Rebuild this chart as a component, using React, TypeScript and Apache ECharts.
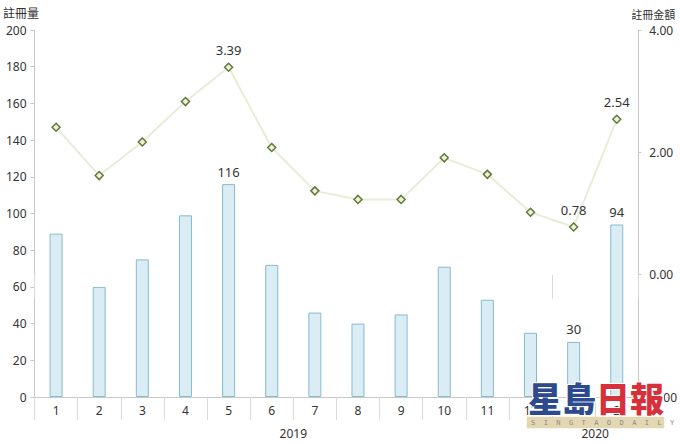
import { useEffect, useRef } from "react";
import * as echarts from "echarts";

// month labels along the bottom, grouped by year
const monthLabels = ["1", "2", "3", "4", "5", "6", "7", "8", "9", "10", "11", "12", "1", "2"];
const years = ["2019", "2020"];
const yearCounts = [12, 2];

// 註冊量 (bars, left axis)
const regCount = [89, 60, 75, 99, 116, 72, 46, 40, 45, 71, 53, 35, 30, 94];
// 註冊金額 (line, right axis)
const regAmount = [2.41, 1.62, 2.17, 2.83, 3.39, 2.08, 1.37, 1.23, 1.23, 1.91, 1.64, 1.02, 0.78, 2.54];

// points that carry a value label
const labelledIdx = [4, 12, 13];

const leftTicks = { min: 0, max: 200, interval: 20 };
const rightTicks = { min: -2, max: 4, interval: 2 };

const FONT = '"Noto Sans", "Noto Sans CJK TC", sans-serif';
const CJK = '"Noto Sans CJK TC", sans-serif';
const TEXT = "#333";
const AXIS = "#c8c8c8";

export default function App() {
  const chartRef = useRef<HTMLDivElement>(null);

  useEffect(() => {
    document.body.style.margin = "0";
    if (!chartRef.current) return;
    const chart = echarts.init(chartRef.current, undefined, { renderer: "svg" });

    // year group boundaries and centres in category units
    const bounds = [0];
    yearCounts.forEach((c) => bounds.push(bounds[bounds.length - 1] + c));
    const centres = yearCounts.map((c, i) => bounds[i] + c / 2);

    const labelCfg = { show: true, position: "top", color: TEXT, fontSize: 13, fontFamily: FONT, distance: 6 };

    chart.setOption({
      animation: false,
      backgroundColor: "#fff",
      textStyle: { fontFamily: FONT },
      grid: { left: 32, right: 40, top: 30, bottom: 47 },
      xAxis: [
        {
          type: "category",
          data: monthLabels.map((m, i) => `${i}:${m}`),
          boundaryGap: true,
          axisLine: { lineStyle: { color: AXIS } },
          axisTick: { show: true, interval: 0, length: 23, lineStyle: { color: "#dadada" } },
          axisLabel: {
            interval: 0,
            margin: 7,
            color: TEXT,
            fontSize: 12,
            fontFamily: FONT,
            formatter: (v: string) => v.split(":")[1],
          },
        },
        {
          type: "value",
          min: 0,
          max: monthLabels.length,
          position: "bottom",
          offset: 23,
          axisLine: { show: false },
          splitLine: { show: false },
          axisTick: {
            show: true,
            customValues: bounds,
            length: 24,
            lineStyle: { color: "#dadada" },
          },
          axisLabel: {
            customValues: centres,
            margin: 7,
            color: TEXT,
            fontSize: 12,
            fontFamily: FONT,
            formatter: (v: number) => years[centres.indexOf(v)] ?? "",
          },
        },
      ],
      yAxis: [
        {
          type: "value",
          ...leftTicks,
          name: "註冊量",
          nameLocation: "end",
          nameGap: 12,
          nameTextStyle: { color: TEXT, fontSize: 12, fontFamily: CJK, align: "center", padding: [0, 27, 0, 0] },
          axisLine: { show: true, lineStyle: { color: AXIS } },
          axisTick: { show: true, length: 4, lineStyle: { color: AXIS } },
          splitLine: { show: false },
          axisLabel: { color: TEXT, fontSize: 12, fontFamily: FONT, margin: 8 },
        },
        {
          type: "value",
          ...rightTicks,
          name: "註冊金額",
          nameLocation: "end",
          nameGap: 11,
          nameTextStyle: { color: TEXT, fontSize: 11, fontFamily: CJK, align: "center", padding: [0, 0, 0, 30] },
          axisLine: { show: true, lineStyle: { color: AXIS } },
          axisTick: { show: true, length: 3, lineStyle: { color: AXIS } },
          splitLine: { show: false },
          axisLabel: {
            color: TEXT,
            fontSize: 12,
            fontFamily: FONT,
            margin: 11,
            formatter: (v: number) => v.toFixed(2),
          },
        },
      ],
      series: [
        {
          name: "註冊量",
          type: "bar",
          xAxisIndex: 0,
          yAxisIndex: 0,
          barWidth: 13,
          itemStyle: { color: "#daedf5", borderColor: "#86bccb", borderWidth: 1 },
          data: regCount.map((v, i) => ({
            value: v,
            label: labelledIdx.includes(i) ? labelCfg : { show: false },
          })),
          emphasis: { disabled: true },
        },
        {
          name: "註冊金額",
          type: "line",
          xAxisIndex: 0,
          yAxisIndex: 1,
          symbol: "diamond",
          symbolSize: 8,
          lineStyle: { color: "#eaecd8", width: 2 },
          itemStyle: { color: "#eef0dc", borderColor: "#62793a", borderWidth: 1.5 },
          data: regAmount.map((v, i) => ({
            value: v,
            label: labelledIdx.includes(i)
              ? { ...labelCfg, formatter: (p: any) => Number(p.value).toFixed(2) }
              : { show: false },
          })),
          emphasis: { disabled: true },
          z: 3,
        },
      ],
      // Sing Tao Daily watermark
      graphic: [
        {
          type: "rect",
          z: 100,
          shape: { x: 527, y: 417, width: 137, height: 11 },
          style: { fill: "#e3d7b2", stroke: "#e3d7b2", lineWidth: 0.5 },
        },
        {
          type: "text",
          x: 531,
          y: 422.5,
          z: 101,
          style: {
            text: "S  I  N  G  T  A  O  D  A  I  L  Y",
            fill: "#8a8a8a",
            fontSize: 7,
            fontFamily: '"DejaVu Sans Mono", monospace',
            verticalAlign: "middle",
          },
        },
        {
          type: "text",
          left: 527,
          top: 379,
          z: 102,
          style: {
            text: "{b|星島}{r|日報}",
            rich: {
              b: { fill: "#2e4a8e", fontSize: 34, fontWeight: 900, fontFamily: CJK, lineHeight: 38 },
              r: { fill: "#d8303b", fontSize: 34, fontWeight: 900, fontFamily: CJK, lineHeight: 38 },
            },
            stroke: "#fff",
            lineWidth: 2,
          },
        },
      ],
    });

    return () => chart.dispose();
  }, []);

  return <div ref={chartRef} style={{ width: 680, height: 444 }} />;
}
